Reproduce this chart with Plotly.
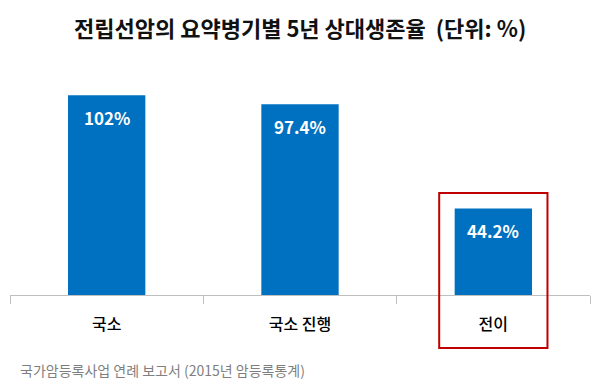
import plotly.graph_objects as go

categories = ["국소", "국소 진행", "전이"]
values = [102, 97.4, 44.2]
value_labels = ["102%", "97.4%", "44.2%"]
title_text = "전립선암의 요약병기별 5년 상대생존율  (단위: %)"
source_text = "국가암등록사업 연례 보고서 (2015년 암등록통계)"

FONT = "Noto Sans CJK KR"
BAR = "#0070C0"

fig = go.Figure()
fig.add_trace(go.Bar(x=categories, y=values, width=0.4,
                     marker=dict(color=BAR, line=dict(width=0)),
                     hoverinfo="skip"))

for c, v, t in zip(categories, values, value_labels):
    fig.add_annotation(x=c, y=v, text="<b>" + t + "</b>", showarrow=False,
                       yanchor="middle", yshift=-22,
                       font=dict(family=FONT, size=17, color="white"))

# highlight box around 전이 (x in category units, y in paper units so it can pass below the axis)
fig.add_shape(type="rect", xref="x", yref="paper", x0=2 - 0.28, x1=2 + 0.28,
              y0=-0.2255, y1=0.434, line=dict(color="#C00000", width=2),
              fillcolor="rgba(0,0,0,0)", layer="above")

fig.add_annotation(xref="paper", yref="paper", x=0.5, y=1, yanchor="middle",
                   xanchor="center", yshift=33, text="<b>" + title_text + "</b>",
                   showarrow=False, font=dict(family=FONT, size=22, color="#111111"))
fig.add_annotation(xref="paper", yref="paper", x=0, xanchor="left", xshift=8,
                   y=0, yanchor="middle", yshift=-75, text=source_text,
                   showarrow=False, font=dict(family=FONT, size=14, color="#7F7F7F"))

fig.update_layout(
    width=600, height=389,
    margin=dict(l=10, r=10, t=60, b=94),
    paper_bgcolor="white", plot_bgcolor="white",
    showlegend=False, bargap=0.6,
    font=dict(family=FONT),
)
fig.update_xaxes(range=[-0.5, 2.5], showline=True, linecolor="#BFBFBF", linewidth=1,
                 ticks="outside", tickson="boundaries", ticklen=8,
                 tickcolor="#BFBFBF", showgrid=False,
                 tickfont=dict(family=FONT, size=16, color="#000000", weight=500),
                 ticklabelstandoff=15)
fig.update_yaxes(range=[0, 120], visible=False, showgrid=False, zeroline=False)

fig.write_html("out.html", config={"displayModeBar": False},
               post_script="document.body.style.margin='0';document.body.style.overflow='hidden';")
